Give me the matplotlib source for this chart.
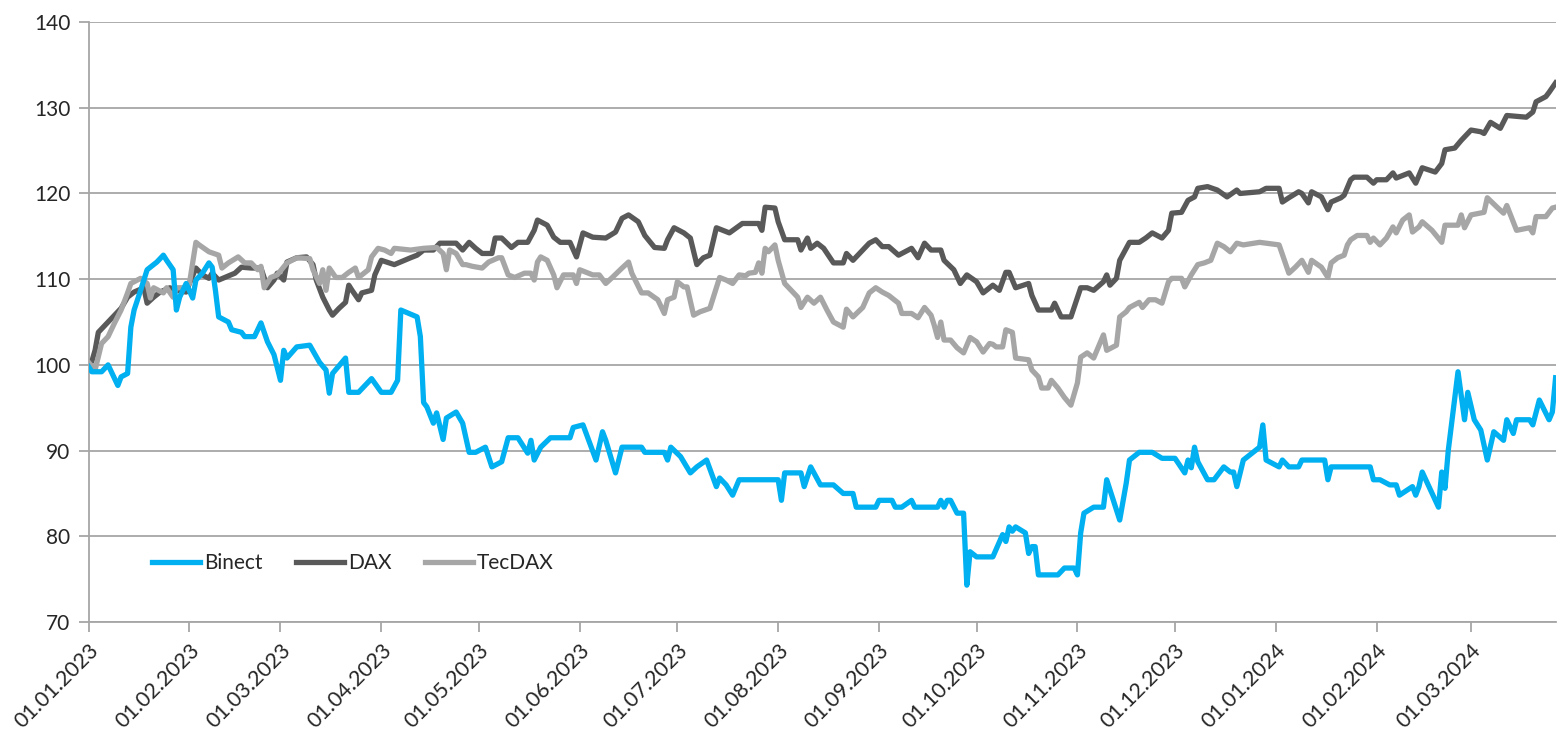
import matplotlib
matplotlib.use("Agg")
import matplotlib.pyplot as plt
import matplotlib.dates as mdates
import pandas as pd

START = pd.Timestamp("2023-01-01")

# days since 01.01.2023 and indexed values (start = 100)
binect_days = [0, 1, 4, 6, 9, 10, 12, 13, 14, 16, 18, 21, 23, 24, 26, 27, 28, 30, 32, 33,
               35, 37, 38, 39, 40, 43, 44, 47, 48, 51, 53, 55, 57, 59, 60, 61, 64, 68, 71, 73,
               74, 75, 79, 80, 83, 87, 90, 93, 95, 96, 101, 102, 103, 104, 106, 107, 109, 110, 113, 115,
               117, 119, 122, 124, 127, 129, 132, 135, 136, 137, 139, 142, 148, 149, 152, 156, 158, 159, 162, 164,
               170, 171, 177, 178, 179, 182, 185, 187, 190, 193, 194, 196, 198, 200, 212, 213, 214, 219, 220, 222,
               225, 229, 232, 235, 236, 242, 243, 247, 248, 250, 253, 254, 261, 262, 263, 264, 265, 267, 269, 270,
               271, 273, 278, 281, 282, 283, 284, 285, 288, 289, 290, 291, 292, 298, 300, 303, 304, 305, 306, 309,
               312, 313, 317, 319, 320, 323, 327, 330, 334, 337, 338, 339, 340, 341, 344, 346, 349, 351, 352, 353,
               355, 357, 360, 361, 362, 366, 367, 369, 372, 373, 380, 381, 382, 394, 395, 397, 400, 402, 403, 407,
               408, 409, 410, 415, 416, 417, 418, 421, 423, 424, 426, 428, 430, 432, 435, 436, 438, 439, 443, 444,
               446, 449, 450, 451]
binect_vals = [99.8, 99.2, 99.2, 100.0, 97.6, 98.6, 99.0, 104.4, 106.4, 108.7, 111.1, 112.0, 112.8, 112.2, 111.1, 106.4, 107.9, 109.5, 107.8, 109.9,
               110.7, 111.9, 111.4, 108.7, 105.6, 105.0, 104.1, 103.8, 103.3, 103.3, 104.9, 102.7, 101.2, 98.2, 101.7, 100.8, 102.1, 102.3, 100.3, 99.4,
               96.7, 99.0, 100.8, 96.8, 96.8, 98.4, 96.8, 96.8, 98.2, 106.4, 105.6, 103.3, 95.6, 95.1, 93.2, 94.4, 91.3, 93.8, 94.5, 93.2,
               89.8, 89.8, 90.4, 88.1, 88.7, 91.5, 91.5, 89.7, 91.2, 88.9, 90.4, 91.5, 91.5, 92.7, 93.0, 88.9, 92.2, 91.2, 87.4, 90.4,
               90.4, 89.8, 89.8, 88.9, 90.4, 89.3, 87.4, 88.1, 88.9, 85.8, 86.8, 86.0, 84.8, 86.6, 86.6, 84.2, 87.4, 87.4, 85.8, 88.1,
               86.0, 86.0, 85.0, 85.0, 83.4, 83.4, 84.2, 84.2, 83.4, 83.4, 84.2, 83.4, 83.4, 84.2, 83.4, 84.2, 84.2, 82.7, 82.7, 74.3,
               78.2, 77.6, 77.6, 80.2, 79.4, 81.1, 80.6, 81.1, 80.4, 78.0, 78.8, 78.8, 75.5, 75.5, 76.3, 76.3, 75.5, 80.4, 82.7, 83.4,
               83.4, 86.6, 81.9, 86.2, 88.9, 89.8, 89.8, 89.1, 89.1, 87.4, 88.9, 88.0, 90.4, 88.7, 86.6, 86.6, 88.1, 87.5, 87.5, 85.8,
               88.9, 89.5, 90.4, 93.0, 88.9, 88.1, 88.9, 88.1, 88.1, 88.9, 88.9, 86.6, 88.1, 88.1, 86.6, 86.6, 86.0, 86.0, 84.8, 85.8,
               84.8, 85.8, 87.5, 83.4, 87.5, 85.6, 90.0, 99.2, 93.6, 96.8, 93.6, 92.4, 88.9, 92.2, 91.2, 93.6, 92.0, 93.6, 93.6, 93.0,
               95.9, 93.6, 94.5, 98.5]

dax_days = [0, 1, 2, 3, 6, 8, 10, 12, 14, 17, 18, 20, 22, 25, 27, 30, 31, 33, 35, 37,
            38, 40, 45, 47, 50, 53, 55, 57, 58, 60, 61, 64, 67, 69, 70, 72, 74, 75, 77, 79,
            80, 81, 83, 84, 87, 88, 90, 94, 99, 101, 103, 106, 108, 113, 115, 117, 119, 121, 124, 125,
            127, 130, 132, 135, 137, 138, 141, 143, 145, 148, 150, 152, 155, 159, 162, 164, 166, 169, 171, 174,
            177, 178, 180, 183, 185, 187, 189, 191, 193, 197, 201, 206, 207, 208, 211, 212, 214, 218, 219, 221,
            222, 224, 226, 229, 232, 233, 235, 240, 242, 244, 246, 249, 251, 253, 255, 257, 259, 262, 263, 266,
            268, 270, 273, 275, 278, 280, 282, 283, 285, 289, 290, 292, 296, 297, 299, 302, 305, 307, 309, 312,
            313, 314, 316, 317, 320, 323, 325, 327, 330, 332, 333, 336, 338, 340, 341, 344, 347, 350, 353, 354,
            360, 362, 366, 367, 369, 372, 373, 375, 376, 379, 381, 382, 385, 386, 388, 389, 393, 395, 396, 399,
            401, 402, 406, 408, 410, 414, 416, 417, 420, 422, 425, 428, 429, 431, 434, 436, 442, 444, 445, 448,
            449, 451]
dax_vals = [100.0, 100.4, 101.7, 103.8, 105.0, 105.8, 106.6, 107.9, 108.5, 109.0, 107.2, 107.9, 108.5, 109.0, 108.7, 108.5, 109.5, 111.3, 110.5, 110.1,
            110.7, 109.9, 110.7, 111.4, 111.3, 111.3, 109.0, 109.9, 110.7, 109.9, 112.0, 112.5, 112.6, 111.7, 109.9, 107.9, 106.4, 105.8, 106.6, 107.3,
            109.3, 108.7, 107.6, 108.4, 108.7, 110.5, 112.2, 111.7, 112.5, 112.8, 113.4, 113.4, 114.2, 114.2, 113.4, 114.3, 113.6, 113.0, 113.0, 114.8,
            114.8, 113.7, 114.3, 114.3, 115.7, 116.9, 116.3, 114.9, 114.3, 114.3, 112.6, 115.4, 114.9, 114.8, 115.5, 117.1, 117.5, 116.7, 115.1, 113.7,
            113.6, 114.6, 116.0, 115.4, 114.8, 111.7, 112.5, 112.8, 116.0, 115.4, 116.5, 116.5, 115.7, 118.4, 118.3, 116.7, 114.6, 114.6, 113.4, 114.8,
            113.6, 114.2, 113.6, 111.9, 111.9, 113.0, 112.2, 114.2, 114.6, 113.8, 113.8, 112.8, 113.2, 113.6, 112.5, 114.2, 113.4, 113.4, 112.2, 111.1,
            109.5, 110.5, 109.7, 108.4, 109.3, 108.7, 110.8, 110.8, 109.0, 109.5, 108.1, 106.4, 106.4, 107.2, 105.6, 105.6, 109.0, 109.0, 108.7, 109.7,
            110.5, 109.3, 110.1, 112.2, 114.3, 114.3, 114.8, 115.4, 114.8, 115.7, 117.7, 117.8, 119.2, 119.6, 120.6, 120.8, 120.4, 119.6, 120.4, 120.0,
            120.2, 120.6, 120.6, 119.0, 119.5, 120.2, 120.0, 118.9, 120.2, 119.6, 118.1, 119.0, 119.5, 119.8, 121.6, 121.9, 121.9, 121.2, 121.6, 121.6,
            122.4, 121.8, 122.4, 121.2, 123.0, 122.5, 123.5, 125.1, 125.3, 126.2, 127.4, 127.2, 127.0, 128.3, 127.6, 129.1, 128.9, 129.5, 130.7, 131.3,
            131.8, 132.9]

tecdax_days = [0, 2, 4, 6, 8, 10, 12, 13, 16, 18, 19, 20, 23, 24, 26, 27, 30, 31, 33, 34,
               37, 40, 41, 43, 46, 48, 50, 52, 53, 54, 56, 58, 61, 64, 68, 69, 71, 72, 73, 74,
               76, 78, 80, 82, 83, 86, 87, 89, 91, 93, 94, 99, 103, 107, 109, 110, 111, 113, 115, 116,
               118, 121, 123, 126, 127, 129, 131, 134, 136, 137, 138, 139, 141, 143, 144, 146, 149, 150, 151, 155,
               157, 159, 161, 164, 166, 167, 170, 172, 175, 177, 178, 180, 181, 183, 184, 186, 188, 191, 194, 196,
               198, 200, 202, 203, 205, 206, 207, 208, 209, 211, 212, 214, 216, 218, 219, 221, 223, 225, 227, 229,
               232, 233, 235, 238, 240, 242, 244, 246, 249, 250, 253, 255, 257, 259, 260, 261, 262, 263, 265, 267,
               269, 271, 273, 275, 277, 278, 279, 281, 282, 284, 285, 289, 290, 292, 293, 295, 296, 298, 300, 302,
               304, 305, 307, 309, 312, 313, 316, 317, 319, 320, 323, 324, 326, 328, 330, 332, 333, 336, 337, 339,
               341, 343, 345, 347, 349, 351, 353, 355, 360, 366, 369, 371, 373, 375, 376, 379, 381, 382, 384, 386,
               387, 388, 390, 393, 394, 395, 397, 399, 401, 402, 404, 406, 407, 409, 410, 413, 416, 417, 421, 422,
               423, 425, 429, 430, 433, 435, 436, 439, 443, 444, 445, 448, 450, 451]
tecdax_vals = [100.3, 99.4, 102.5, 103.3, 104.9, 106.4, 108.4, 109.5, 110.1, 109.5, 107.8, 109.0, 108.4, 109.0, 107.9, 109.0, 109.0, 109.5, 114.3, 114.0,
               113.2, 112.8, 111.3, 111.9, 112.6, 111.9, 111.9, 111.1, 111.5, 109.0, 110.2, 110.5, 111.9, 112.5, 112.4, 111.1, 109.5, 111.1, 108.7, 111.3,
               110.2, 110.2, 110.8, 111.3, 110.2, 111.1, 112.6, 113.6, 113.4, 113.0, 113.6, 113.4, 113.6, 113.7, 113.0, 111.1, 113.4, 113.0, 111.7, 111.7,
               111.5, 111.3, 112.0, 112.5, 112.5, 110.5, 110.2, 110.7, 110.7, 109.9, 112.0, 112.6, 112.2, 110.5, 109.0, 110.5, 110.5, 109.5, 111.1, 110.5,
               110.5, 109.5, 110.2, 111.3, 112.0, 110.7, 108.4, 108.4, 107.6, 106.0, 107.6, 107.9, 109.7, 109.1, 109.1, 105.8, 106.2, 106.6, 110.2, 109.9,
               109.5, 110.5, 110.4, 110.7, 110.8, 111.9, 110.7, 113.6, 113.2, 114.0, 112.2, 109.5, 108.7, 107.9, 106.7, 107.9, 107.2, 107.9, 106.4, 105.0,
               104.4, 106.5, 105.6, 106.7, 108.4, 109.0, 108.5, 108.1, 107.2, 106.0, 106.0, 105.5, 106.7, 105.8, 104.6, 103.2, 105.0, 102.9, 102.9, 102.0,
               101.4, 103.2, 102.7, 101.5, 102.5, 102.4, 102.1, 102.1, 104.1, 103.8, 100.8, 100.6, 99.4, 98.6, 97.3, 97.3, 98.2, 97.3, 96.2, 95.3,
               97.9, 100.9, 101.4, 100.8, 103.5, 101.7, 102.3, 105.6, 106.2, 106.7, 107.3, 106.7, 107.6, 107.6, 107.2, 109.7, 110.1, 110.1, 109.1, 110.5,
               111.7, 111.9, 112.2, 114.2, 113.8, 113.2, 114.2, 114.0, 114.3, 114.0, 110.7, 111.4, 112.2, 110.8, 112.2, 111.4, 110.2, 111.9, 112.5, 112.8,
               114.0, 114.6, 115.1, 115.1, 114.3, 114.8, 114.0, 114.8, 116.1, 115.4, 116.9, 117.5, 115.5, 116.1, 116.7, 115.7, 114.3, 116.3, 116.3, 117.5,
               116.0, 117.5, 117.8, 119.5, 118.4, 117.7, 118.6, 115.7, 116.0, 115.4, 117.3, 117.3, 118.3, 118.4]

y_ticks = [70, 80, 90, 100, 110, 120, 130, 140]
END_DAY = 451

BLUE = "#00B0F0"
DARK = "#595959"
LIGHT = "#A6A6A6"
AXIS_GREY = "#A6A6A6"
TEXT = "#262626"


def to_dates(days):
    return START + pd.to_timedelta(days, unit="D")


plt.rcParams["font.family"] = ["Lato", "DejaVu Sans"]

fig = plt.figure(figsize=(15.62, 7.35), dpi=100)
ax = fig.add_axes([0.0567, 0.1537, 0.9392, 0.8163])

l_dax, = ax.plot(to_dates(dax_days), dax_vals, color=DARK, lw=3.8, label="DAX", zorder=3)
l_tec, = ax.plot(to_dates(tecdax_days), tecdax_vals, color=LIGHT, lw=3.8, label="TecDAX", zorder=4)
l_bin, = ax.plot(to_dates(binect_days), binect_vals, color=BLUE, lw=3.8, label="Binect", zorder=5)

ax.set_xlim(START, START + pd.Timedelta(days=END_DAY))
ax.set_ylim(70, 140)
ax.set_yticks(y_ticks)
ax.yaxis.grid(True, color=AXIS_GREY, lw=1.3)
ax.set_axisbelow(True)

ax.xaxis.set_major_locator(mdates.MonthLocator())
ax.xaxis.set_major_formatter(mdates.DateFormatter("%d.%m.%Y"))

for side in ["top", "right"]:
    ax.spines[side].set_visible(False)
for side in ["left", "bottom"]:
    ax.spines[side].set_color(AXIS_GREY)
    ax.spines[side].set_linewidth(1.3)

ax.tick_params(axis="both", colors=AXIS_GREY, length=7, width=1.3, direction="out",
               labelcolor=TEXT, labelsize=15)
ax.tick_params(axis="x", pad=6, labelsize=15.5)
ax.tick_params(axis="y", pad=6)
for lbl in ax.get_xticklabels():
    lbl.set_rotation(45)
    lbl.set_ha("right")
    lbl.set_va("top")
    lbl.set_rotation_mode("anchor")

ax.legend(handles=[l_bin, l_dax, l_tec], loc="center", bbox_to_anchor=(0.18, 0.098),
          ncol=3, frameon=False, fontsize=15, handlelength=2.3, handletextpad=0.2,
          columnspacing=1.6, labelcolor=TEXT)

fig.savefig("out.png", dpi=100)
